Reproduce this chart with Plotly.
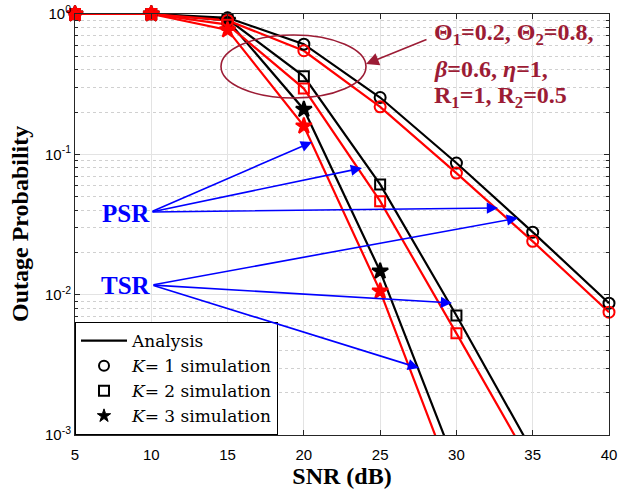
import plotly.graph_objects as go

# ---------------- data ----------------
snr = [5, 10, 15, 20, 25, 30, 35, 40]

# Analysis (TSR = black, PSR = red)
tsr_k1 = [1.0, 1.0, 0.94, 0.61, 0.254, 0.0867, 0.0279, 0.0087]
tsr_k2 = [1.0, 1.0, 0.92, 0.36, 0.061, 0.0071, 0.00076, None]
tsr_k3 = [1.0, 1.0, 0.90, 0.209, 0.0147, 0.00059, None, None]
psr_k1 = [1.0, 1.0, 0.90, 0.547, 0.218, 0.0735, 0.024, 0.0075]
psr_k2 = [1.0, 1.0, 0.84, 0.294, 0.0464, 0.0053, 0.00059, None]
psr_k3 = [1.0, 1.0, 0.77, 0.159, 0.0106, 0.00040, None, None]

# simulation points available per K
sim_count = {1: 8, 2: 6, 3: 5}

legend_names = ["Analysis", "<i>K</i>= 1 simulation", "<i>K</i>= 2 simulation", "<i>K</i>= 3 simulation"]
xticks = [5, 10, 15, 20, 25, 30, 35, 40]
yticks = [0.001, 0.01, 0.1, 1]
yticktext = ["10<sup>-3</sup>", "10<sup>-2</sup>", "10<sup>-1</sup>", "10<sup>0</sup>"]

BLACK = "#000000"
RED = "#FF0000"
DRED = "#9C1C35"
BLUE = "#0000FF"

symbols = {1: "circle-open", 2: "square-open", 3: "star"}
msize = {1: 11, 2: 10, 3: 12}

fig = go.Figure()

series = [(BLACK, {1: tsr_k1, 2: tsr_k2, 3: tsr_k3}),
          (RED, {1: psr_k1, 2: psr_k2, 3: psr_k3})]

for color, d in series:
    for k in (1, 2, 3):
        fig.add_trace(go.Scatter(x=snr, y=d[k], mode="lines",
                                 line=dict(color=color, width=2.2),
                                 showlegend=False, hoverinfo="skip"))
for color, d in series:
    for k in (1, 2, 3):
        n = sim_count[k]
        fig.add_trace(go.Scatter(x=snr[:n], y=d[k][:n], mode="markers", cliponaxis=False,
                                 marker=dict(symbol=symbols[k], size=msize[k], color=color,
                                             line=dict(color=color, width=2)),
                                 showlegend=False))

# legend dummies
fig.add_trace(go.Scatter(x=[None], y=[None], mode="lines", name=legend_names[0],
                         line=dict(color=BLACK, width=2.2)))
for k in (1, 2, 3):
    fig.add_trace(go.Scatter(x=[None], y=[None], mode="markers", name=legend_names[k],
                             marker=dict(symbol=symbols[k], size=10 if k < 3 else 10, color=BLACK,
                                         line=dict(color=BLACK, width=2 if k < 3 else 1))))

# plot area pixel geometry
L, R, T, B = 75, 609, 14, 435
W, H = R - L, B - T


def px(xp, yp):
    return (xp - L) / W, (B - yp) / H


minor_vals = [m * 10.0 ** e for e in (-3, -2, -1) for m in range(2, 10)]

fig.update_layout(
    width=625, height=493,
    margin=dict(l=L, r=625 - R, t=T, b=493 - B),
    paper_bgcolor="white", plot_bgcolor="white",
    font=dict(family="Liberation Sans", size=15, color="black"),
    xaxis=dict(range=[5, 40], tickvals=xticks, ticks="inside", ticklen=5, tickcolor="#262626",
               showline=True, linecolor="#262626", linewidth=1, mirror="ticks",
               showgrid=True, gridcolor="#E3E3E3", gridwidth=1, zeroline=False,
               ticklabelstandoff=6, automargin=False,
               title=dict(text="<b>SNR (dB)</b>", font=dict(family="Liberation Serif", size=24),
                          standoff=3)),
    yaxis=dict(type="log", range=[-3, 0], tickvals=yticks, ticktext=yticktext,
               ticks="inside", ticklen=5, tickcolor="#262626", automargin=False,
               showline=True, linecolor="#262626", linewidth=1, mirror="ticks",
               showgrid=True, gridcolor="#E3E3E3", gridwidth=1, zeroline=False,
               minor=dict(tickvals=minor_vals, ticks="inside", ticklen=3, tickcolor="#262626",
                          showgrid=True, gridcolor="#D0D0D0", griddash="dot", gridwidth=1)),
    legend=dict(x=0, y=0, xanchor="left", yanchor="bottom",
                bgcolor="white", bordercolor="black", borderwidth=1,
                font=dict(family="DejaVu Serif", size=17), tracegroupgap=0,
                itemwidth=46),
    showlegend=True,
)

# y-axis title
tx, ty = px(20, 224)
fig.add_annotation(text="<b>Outage Probability</b>", xref="paper", yref="paper", x=tx, y=ty,
                   xanchor="center", yanchor="middle", textangle=-90, showarrow=False,
                   font=dict(family="Liberation Serif", size=24, color="black"))

# ellipse
ex0, ey0 = px(221, 98)
ex1, ey1 = px(366, 35)
fig.add_shape(type="circle", xref="paper", yref="paper", x0=ex0, y0=ey0, x1=ex1, y1=ey1,
              line=dict(color=DRED, width=1.6))

# parameter text
lines = ["<b>Θ<sub>1</sub>=0.2, Θ<sub>2</sub>=0.8,</b>",
         "<b><i>β</i>=0.6, <i>η</i>=1,</b>",
         "<b>R<sub>1</sub>=1, R<sub>2</sub>=0.5</b>"]
ys = [34, 69, 97]
for t, yy in zip(lines, ys):
    xx, yv = px(432, yy)
    fig.add_annotation(text=t, xref="paper", yref="paper", x=xx, y=yv, xanchor="left",
                       yanchor="middle", showarrow=False,
                       font=dict(family="Liberation Serif", size=24, color=DRED))

# dark red arrow
hx, hy = px(366, 64)
fig.add_annotation(text="", xref="paper", yref="paper", x=hx, y=hy, axref="pixel", ayref="pixel",
                   ax=428 - 366, ay=39 - 64, showarrow=True, arrowhead=2, arrowsize=1.6,
                   arrowwidth=1.6, arrowcolor=DRED)

# PSR / TSR labels
for lab, (lx, ly) in (("PSR", (126, 213)), ("TSR", (126, 286))):
    xx, yv = px(lx, ly)
    fig.add_annotation(text="<b>" + lab + "</b>", xref="paper", yref="paper", x=xx, y=yv,
                       xanchor="center", yanchor="middle",
                       showarrow=False, font=dict(family="Liberation Serif", size=25, color=BLUE))

psr_tail = (151, 212)
psr_heads = [(312, 142), (362, 168), (498, 208)]
tsr_tail = (152, 285)
tsr_heads = [(518, 218), (452, 303), (419, 368)]
for tail, heads in ((psr_tail, psr_heads), (tsr_tail, tsr_heads)):
    for hxp, hyp in heads:
        hx, hy = px(hxp, hyp)
        fig.add_annotation(text="", xref="paper", yref="paper", x=hx, y=hy,
                           axref="pixel", ayref="pixel", ax=tail[0] - hxp, ay=tail[1] - hyp,
                           showarrow=True, arrowhead=2, arrowsize=1.4, arrowwidth=1.6,
                           arrowcolor=BLUE)

fig.write_html("out.html")
